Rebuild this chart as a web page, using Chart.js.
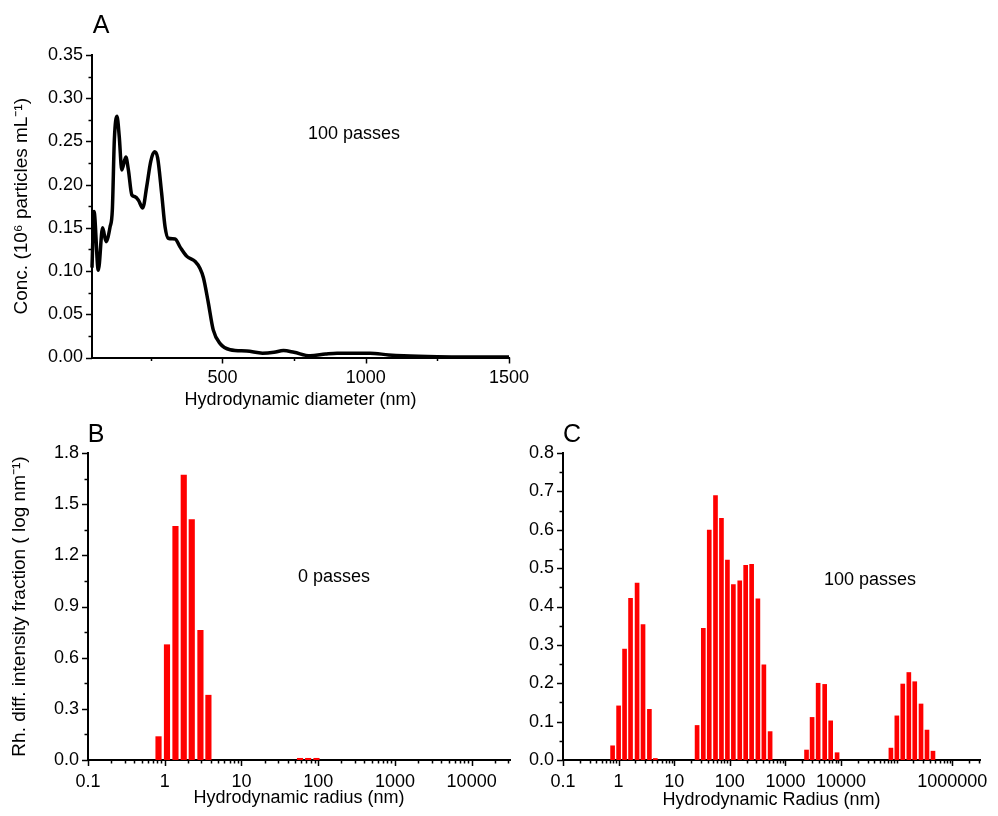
<!DOCTYPE html>
<html>
<head>
<meta charset="utf-8">
<script src="https://cdn.jsdelivr.net/npm/chart.js@4.4.1/dist/chart.umd.min.js"></script>
<style>
body{margin:0;background:#fff;width:998px;height:816px;position:relative;overflow:hidden;font-family:"Liberation Sans",Arial,sans-serif;color:#000}
canvas{position:absolute}
.txt{position:absolute;white-space:nowrap;transform:translate(-50%,-50%);line-height:1}
</style>
</head>
<body>
<canvas id="chartA" width="540" height="420" style="left:0;top:0"></canvas>
<canvas id="chartB" width="530" height="396" style="left:0;top:420px"></canvas>
<canvas id="chartC" width="498" height="396" style="left:500px;top:420px"></canvas>

<div class="txt" style="left:101px;top:24px;font-size:25px">A</div>
<div class="txt" style="left:96px;top:433px;font-size:25px">B</div>
<div class="txt" style="left:572px;top:433px;font-size:25px">C</div>
<div class="txt" style="left:354px;top:133px;font-size:18px">100 passes</div>
<div class="txt" style="left:334px;top:576px;font-size:18px">0 passes</div>
<div class="txt" style="left:870px;top:579px;font-size:18px">100 passes</div>

<script>
// ---- panel A: concentration vs hydrodynamic diameter (100 passes)
const diamA = [45, 52, 67, 82, 94, 108, 116, 123, 132, 140, 149, 163, 172, 184, 195, 207, 222, 236, 250, 263, 274, 288, 300, 311, 335, 352, 376, 405, 422, 434, 450, 468, 492, 527, 585, 640, 680, 713, 750, 806, 860, 900, 1015, 1080, 1132, 1250, 1500];
const concA = [0.104, 0.169, 0.101, 0.150, 0.134, 0.151, 0.171, 0.252, 0.279, 0.256, 0.217, 0.232, 0.217, 0.188, 0.186, 0.182, 0.173, 0.198, 0.227, 0.238, 0.231, 0.190, 0.151, 0.138, 0.137, 0.128, 0.117, 0.111, 0.103, 0.092, 0.065, 0.032, 0.016, 0.009, 0.0075, 0.005, 0.006, 0.008, 0.006, 0.002, 0.004, 0.005, 0.005, 0.003, 0.002, 0.001, 0.0005];
const aXTicks = [250, 500, 750, 1000, 1250, 1500];
const aXLabels = [500, 1000, 1500];
const aYTicks = [0, 0.025, 0.05, 0.075, 0.1, 0.125, 0.15, 0.175, 0.2, 0.225, 0.25, 0.275, 0.3, 0.325, 0.35];
const aYLabels = [0, 0.05, 0.1, 0.15, 0.2, 0.25, 0.3, 0.35];

// ---- panel B: DLS, 0 passes
const radiusB = [0.83, 1.07, 1.38, 1.77, 2.25, 2.92, 3.71, 58, 74, 95];
const fracB = [0.137, 0.676, 1.37, 1.67, 1.41, 0.76, 0.38, 0.01, 0.01, 0.01];
const bYTicks = [0, 0.15, 0.3, 0.45, 0.6, 0.75, 0.9, 1.05, 1.2, 1.35, 1.5, 1.65, 1.8];
const bYLabels = [0, 0.3, 0.6, 0.9, 1.2, 1.5, 1.8];
const bXLabels = [0.1, 1, 10, 100, 1000, 10000];

// ---- panel C: DLS, 100 passes
const radiusC = [0.78, 1.0, 1.28, 1.64, 2.15, 2.75, 3.58, 4.58,
  25.8, 33.4, 42.7, 55.3, 70.8, 90.6, 116, 151, 193, 247, 320, 410, 531,
  2400, 3020, 3880, 5090, 6520, 8500,
  79000, 101000, 129000, 166000, 212000, 275000, 352000, 451000];
const fracC = [0.037, 0.141, 0.289, 0.421, 0.461, 0.353, 0.132, 0.004,
  0.090, 0.343, 0.599, 0.689, 0.630, 0.521, 0.457, 0.467, 0.507, 0.510, 0.420, 0.248, 0.074,
  0.026, 0.111, 0.200, 0.197, 0.102, 0.019,
  0.031, 0.115, 0.198, 0.228, 0.204, 0.146, 0.078, 0.023];
const cYTicks = [0, 0.05, 0.1, 0.15, 0.2, 0.25, 0.3, 0.35, 0.4, 0.45, 0.5, 0.55, 0.6, 0.65, 0.7, 0.75, 0.8];
const cYLabels = [0, 0.1, 0.2, 0.3, 0.4, 0.5, 0.6, 0.7, 0.8];
const cXLabels = [0.1, 1, 10, 100, 1000, 10000, 1000000];

Chart.defaults.font.family = '"Liberation Sans", Arial, sans-serif';
Chart.defaults.color = '#000';

// 1..9 x 10^e marks between two decades
function logTicks(fromExp, toExp, max) {
  const out = [];
  for (let e = fromExp; e <= toExp; e++) {
    for (let d = 1; d <= 9; d++) {
      const v = d * Math.pow(10, e);
      if (v <= max * 1.0001) out.push(v);
    }
  }
  return out;
}

function isIn(list, v) {
  return list.some(l => Math.abs(l - v) <= 1e-6 * Math.max(1e-3, Math.abs(l)));
}

function axis(type, min, max, values, labels, fmt, size, pad, extra) {
  return Object.assign({
    type: type, min: min, max: max, offset: false, z: 1,
    grid: {display: false, drawTicks: false},
    border: {display: true, color: '#000', width: 2},
    afterBuildTicks: s => { s.ticks = values.map(v => ({value: v, major: isIn(labels, v)})); },
    afterFit: s => { if (s.isHorizontal()) s.height = size; else s.width = size; },
    ticks: {
      autoSkip: false, maxRotation: 0, minRotation: 0, padding: pad,
      font: {size: 18},
      callback: (v, i, ts) => (ts[i] && ts[i].major) ? fmt(v) : ''
    }
  }, extra || {});
}

function title(text, size, pad) {
  return {display: true, text: text, font: {size: size}, padding: pad};
}

// tick marks pointing outwards, long on labelled values
const tickMarks = {
  id: 'tickMarks',
  afterDraw(chart) {
    const ctx = chart.ctx;
    ctx.save();
    ctx.strokeStyle = '#000';
    ctx.lineWidth = 1.5;
    Object.values(chart.scales).forEach(s => {
      s.ticks.forEach(t => {
        const len = t.major ? 6 : 3.5;
        const p = Math.round(s.getPixelForValue(t.value)) + 0.5;
        ctx.beginPath();
        if (s.isHorizontal()) { ctx.moveTo(p, s.top); ctx.lineTo(p, s.top + len); }
        else { ctx.moveTo(s.right, p); ctx.lineTo(s.right - len, p); }
        ctx.stroke();
      });
    });
    ctx.restore();
  }
};

const common = {
  responsive: false,
  animation: false,
  events: [],
  plugins: {legend: {display: false}, tooltip: {enabled: false}}
};

// A
new Chart(document.getElementById('chartA'), {
  type: 'line',
  data: {
    datasets: [{
      data: diamA.map((x, i) => ({x: x, y: concA[i]})),
      borderColor: '#000',
      borderWidth: 3.5,
      pointRadius: 0,
      cubicInterpolationMode: 'monotone',
      clip: false
    }]
  },
  options: Object.assign({}, common, {
    layout: {padding: {top: 55, right: 31, left: 0, bottom: 0}},
    scales: {
      x: axis('linear', 45, 1500, aXTicks, aXLabels, v => String(v), 62.5, 10,
        {title: title('Hydrodynamic diameter (nm)', 18, {top: 0, bottom: 9})}),
      y: axis('linear', 0, 0.35, aYTicks, aYLabels, v => v.toFixed(2), 92, 9,
        {title: title('Conc. (10\u2076 particles mL\u207B\u00B9)', 19, {top: 10.5, bottom: 0})})
    }
  }),
  plugins: [tickMarks]
});

// B
new Chart(document.getElementById('chartB'), {
  type: 'bar',
  data: {
    datasets: [{
      data: radiusB.map((x, i) => ({x: x, y: fracB[i]})),
      backgroundColor: '#ff0000',
      barThickness: 5.5
    }]
  },
  options: Object.assign({}, common, {
    layout: {padding: {top: 33, right: 20, left: 0, bottom: 0}},
    scales: {
      x: axis('logarithmic', 0.1, Math.pow(10, 4.5), logTicks(-1, 4, Math.pow(10, 4.5)), bXLabels, v => String(v), 56, 11,
        {title: title('Hydrodynamic radius (nm)', 18, {top: 0, bottom: 7})}),
      y: axis('linear', 0, 1.8, bYTicks, bYLabels, v => v.toFixed(1), 88, 9,
        {title: title('Rh. diff. intensity fraction ( log nm\u207B\u00B9)', 19, {top: 8.5, bottom: 0})})
    }
  }),
  plugins: [tickMarks]
});

// C
new Chart(document.getElementById('chartC'), {
  type: 'bar',
  data: {
    datasets: [{
      data: radiusC.map((x, i) => ({x: x, y: fracC[i]})),
      backgroundColor: '#ff0000',
      barThickness: 4
    }]
  },
  options: Object.assign({}, common, {
    layout: {padding: {top: 33, right: 18, left: 0, bottom: 0}},
    scales: {
      x: axis('logarithmic', 0.1, Math.pow(10, 6.5), logTicks(-1, 6, Math.pow(10, 6.5)), cXLabels, v => String(v), 56, 11,
        {title: title('Hydrodynamic Radius (nm)', 18, {top: 0, bottom: 5})}),
      y: axis('linear', 0, 0.8, cYTicks, cYLabels, v => v.toFixed(1), 63, 9)
    }
  }),
  plugins: [tickMarks]
});
</script>
</body>
</html>
